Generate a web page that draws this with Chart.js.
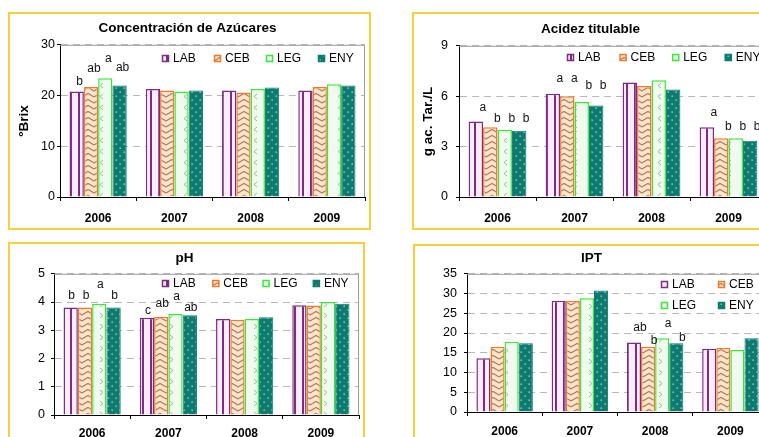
<!DOCTYPE html>
<html>
<head>
<meta charset="utf-8">
<script src="https://cdn.jsdelivr.net/npm/chart.js@4/dist/chart.umd.min.js"></script>
<style>
body { margin: 0; background: #fff; width: 759px; height: 437px; overflow: hidden; position: relative; }
.box { position: absolute; border: 2px solid #f8d13a; box-sizing: border-box; }
canvas { position: absolute; }
</style>
</head>
<body>
<div class="box" style="left:8px;top:12px;width:363px;height:218px"></div>
<div class="box" style="left:412px;top:12px;width:380px;height:218px"></div>
<div class="box" style="left:8px;top:242px;width:357px;height:220px"></div>
<div class="box" style="left:413px;top:244px;width:380px;height:220px"></div>
<canvas id="sugar" style="left:10px;top:14px" width="359" height="214"></canvas>
<canvas id="acid" style="left:414px;top:14px" width="360" height="214"></canvas>
<canvas id="ph" style="left:10px;top:244px" width="353" height="200"></canvas>
<canvas id="ipt" style="left:415px;top:246px" width="360" height="200"></canvas>
<script>
// data
var years = ['2006', '2007', '2008', '2009'];
var seriesNames = ['LAB', 'CEB', 'LEG', 'ENY'];

var sugarLAB = [20.8, 21.3, 21.0, 21.0];
var sugarCEB = [21.7, 21.0, 20.6, 21.7];
var sugarLEG = [23.4, 20.8, 21.3, 22.2];
var sugarENY = [22.0, 21.0, 21.6, 22.0];

var acidLAB = [4.5, 6.15, 6.82, 4.15];
var acidCEB = [4.15, 6.0, 6.6, 3.5];
var acidLEG = [4.0, 5.65, 6.95, 3.5];
var acidENY = [3.95, 5.45, 6.4, 3.35];

var phLAB = [3.81, 3.44, 3.40, 3.89];
var phCEB = [3.81, 3.48, 3.37, 3.88];
var phLEG = [3.94, 3.58, 3.40, 4.0];
var phENY = [3.81, 3.53, 3.46, 3.94];

var iptLAB = [13.6, 28.2, 17.6, 16.0];
var iptCEB = [16.5, 28.2, 16.5, 16.3];
var iptLEG = [17.8, 28.8, 18.7, 15.7];
var iptENY = [17.4, 30.8, 17.4, 18.7];

// significance letters: [year index, series index, letter, height in axis units]
var sugarLetters = [[0, 0, 'b', 22.8], [0, 1, 'ab', 25.3], [0, 2, 'a', 27.3], [0, 3, 'ab', 25.4]];
var acidLetters = [
    [0, 0, 'a', 5.3], [0, 1, 'b', 4.65], [0, 2, 'b', 4.65], [0, 3, 'b', 4.65],
    [1, 0, 'a', 7.06], [1, 1, 'a', 7.06], [1, 2, 'b', 6.6], [1, 3, 'b', 6.6],
    [3, 0, 'a', 5.0], [3, 1, 'b', 4.2], [3, 2, 'b', 4.2], [3, 3, 'b', 4.2]
];
var phLetters = [
    [0, 0, 'b', 4.22], [0, 1, 'b', 4.22], [0, 2, 'a', 4.6], [0, 3, 'b', 4.22],
    [1, 0, 'c', 3.7], [1, 1, 'ab', 3.93], [1, 2, 'a', 4.2], [1, 3, 'ab', 3.81]
];
var iptLetters = [[2, 0, 'ab', 21.25], [2, 1, 'b', 18.0], [2, 2, 'a', 22.25], [2, 3, 'b', 18.75]];

var FONT = '"Liberation Sans", Arial, sans-serif';
var borderColors = ['#7b2d80', '#f47a28', '#3ae83a', '#0e7b70'];

function tile(w, h, draw) {
    var c = document.createElement('canvas');
    c.width = w; c.height = h;
    draw(c.getContext('2d'));
    return document.createElement('canvas').getContext('2d').createPattern(c, 'repeat');
}

function makePatterns(legRight) {
    var lab = tile(8, 8, function (g) {
        g.fillStyle = '#fbecfb'; g.fillRect(0, 0, 8, 8);
        g.fillStyle = '#7b2d80'; g.fillRect(4, 0, 2, 8);
    });
    var ceb = tile(12, 6, function (g) {
        g.fillStyle = '#fde6c8'; g.fillRect(0, 0, 12, 6);
        g.strokeStyle = '#b27868'; g.lineWidth = 1.1;
        g.beginPath(); g.moveTo(0, 5); g.lineTo(6, 1.5); g.lineTo(12, 5); g.stroke();
    });
    var leg = tile(14, 11, function (g) {
        g.fillStyle = '#f1faef'; g.fillRect(0, 0, 14, 11);
        g.strokeStyle = '#94bf94'; g.lineWidth = 1;
        g.beginPath();
        if (legRight) { g.moveTo(6, 3); g.lineTo(9, 5.5); g.lineTo(6, 8); }
        else { g.moveTo(9, 3); g.lineTo(6, 5.5); g.lineTo(9, 8); }
        g.stroke();
    });
    var eny = tile(8, 8, function (g) {
        g.fillStyle = '#0e7b70'; g.fillRect(0, 0, 8, 8);
        g.fillStyle = '#b4e2da';
        g.fillRect(1.5, 1.5, 1.3, 1.3);
        g.fillRect(5.5, 5.5, 1.3, 1.3);
    });
    return [lab, ceb, leg, eny];
}

// grey frame round the plot area (top and right)
var frame = {
    id: 'frame',
    beforeDatasetsDraw: function (chart) {
        var a = chart.chartArea, c = chart.ctx;
        c.save();
        c.strokeStyle = '#9a9a9a'; c.lineWidth = 1;
        c.beginPath();
        c.moveTo(a.left, a.top + 0.5); c.lineTo(a.right - 0.5, a.top + 0.5); c.lineTo(a.right - 0.5, a.bottom);
        c.stroke();
        c.restore();
    }
};

// legend drawn inside the plot area
var boxLegend = {
    id: 'boxLegend',
    afterDraw: function (chart, args, o) {
        var c = chart.ctx;
        c.save();
        c.font = '12px ' + FONT;
        c.textBaseline = 'middle';
        c.fillStyle = '#000';
        chart.data.datasets.forEach(function (ds, i) {
            var col = i % o.cols, row = Math.floor(i / o.cols);
            var x = o.x + col * o.colW, y = o.y + row * o.rowH;
            c.fillStyle = ds.backgroundColor;
            c.fillRect(x, y - 4, 7, 7);
            c.strokeStyle = ds.borderColor; c.lineWidth = 1.5;
            c.strokeRect(x + 0.5, y - 3.5, 6, 6);
            c.fillStyle = '#000';
            c.fillText(ds.label, x + 11, y);
        });
        c.restore();
    }
};

// letters above the bars
var letters = {
    id: 'letters',
    afterDatasetsDraw: function (chart, args, o) {
        var c = chart.ctx, ys = chart.scales.y;
        c.save();
        c.font = '12px ' + FONT;
        c.fillStyle = '#111';
        c.textAlign = 'center';
        c.textBaseline = 'middle';
        o.items.forEach(function (it) {
            var bar = chart.getDatasetMeta(it[1]).data[it[0]];
            c.fillText(it[2], bar.x + o.dx, ys.getPixelForValue(it[3]));
        });
        c.restore();
    }
};

function makeChart(id, p) {
    var pats = makePatterns(p.legRight);
    var datasets = seriesNames.map(function (name, i) {
        return {
            label: name,
            data: p.values[i],
            backgroundColor: pats[i],
            borderColor: borderColors[i],
            borderWidth: i == 3 ? 1 : 1.5,
            borderSkipped: 'bottom',
            categoryPercentage: 0.75,
            barPercentage: 1
        };
    });
    return new Chart(document.getElementById(id), {
        type: 'bar',
        data: { labels: years, datasets: datasets },
        plugins: [frame, boxLegend, letters],
        options: {
            responsive: false,
            animation: false,
            layout: { padding: { left: 0, right: p.padRight, top: 0, bottom: 0 } },
            plugins: {
                legend: { display: false },
                tooltip: { enabled: false },
                title: {
                    display: true, text: p.title, color: '#000',
                    font: { family: FONT, size: 13.5, weight: 'bold' },
                    padding: { top: p.titleTop, bottom: p.titleBottom }
                },
                boxLegend: p.legend,
                letters: { items: p.letters, dx: p.dx }
            },
            scales: {
                x: {
                    grid: { offset: true, drawOnChartArea: false, tickLength: 4, tickColor: '#000' },
                    border: { color: '#000', width: 1 },
                    ticks: { color: '#000', padding: p.xPad, font: { family: FONT, size: 12, weight: 'bold' } },
                    afterFit: function (s) { s.height = p.xHeight; }
                },
                y: {
                    min: 0, max: p.max,
                    ticks: { stepSize: p.step, color: '#000', padding: p.yPad, font: { family: FONT, size: 12.5 } },
                    grid: {
                        color: function (c) { return c.tick && c.tick.value === 0 ? 'rgba(0,0,0,0)' : '#b8b8b8'; },
                        tickLength: 3, tickColor: '#000', tickBorderDash: []
                    },
                    border: { color: '#000', width: 1, dash: [7, 5] },
                    title: {
                        display: !!p.yTitle, text: p.yTitle || '', color: '#000',
                        font: { family: FONT, size: 13.5, weight: 'bold' },
                        padding: { top: 5.8, bottom: 0 }
                    },
                    afterFit: function (s) { s.width = p.yWidth; }
                }
            }
        }
    });
}

makeChart('sugar', {
    title: 'Concentración de Azúcares', yTitle: 'ºBrix',
    values: [sugarLAB, sugarCEB, sugarLEG, sugarENY],
    max: 30, step: 10, yWidth: 50, yPad: 2, xHeight: 31, xPad: 10, padRight: 4,
    titleTop: 5.8, titleBottom: 8.8,
    legend: { x: 152, y: 45, colW: 52, rowH: 21, cols: 4 },
    letters: sugarLetters, dx: 3
});

makeChart('acid', {
    title: 'Acidez titulable', yTitle: 'g ac. Tar./L',
    values: [acidLAB, acidCEB, acidLEG, acidENY],
    max: 9, step: 3, yWidth: 45, yPad: 8, xHeight: 31, xPad: 10, padRight: 7,
    titleTop: 6.8, titleBottom: 8.8,
    legend: { x: 153, y: 44, colW: 52.6, rowH: 21, cols: 4 },
    letters: acidLetters, dx: 7
});

makeChart('ph', {
    title: 'pH',
    values: [phLAB, phCEB, phLEG, phENY], legRight: true,
    max: 5, step: 1, yWidth: 44, yPad: 6, xHeight: 29, xPad: 7, padRight: 4,
    titleTop: 5.8, titleBottom: 7.8,
    legend: { x: 152, y: 40, colW: 50.3, rowH: 21, cols: 4 },
    letters: phLetters, dx: 1
});

makeChart('ipt', {
    title: 'IPT',
    values: [iptLAB, iptCEB, iptLEG, iptENY], legRight: true,
    max: 35, step: 5, yWidth: 52, yPad: 7, xHeight: 34, xPad: 8, padRight: 7,
    titleTop: 3.8, titleBottom: 7.8,
    legend: { x: 246, y: 39, colW: 57, rowH: 21, cols: 2 },
    letters: iptLetters, dx: 6
});
</script>
</body>
</html>
